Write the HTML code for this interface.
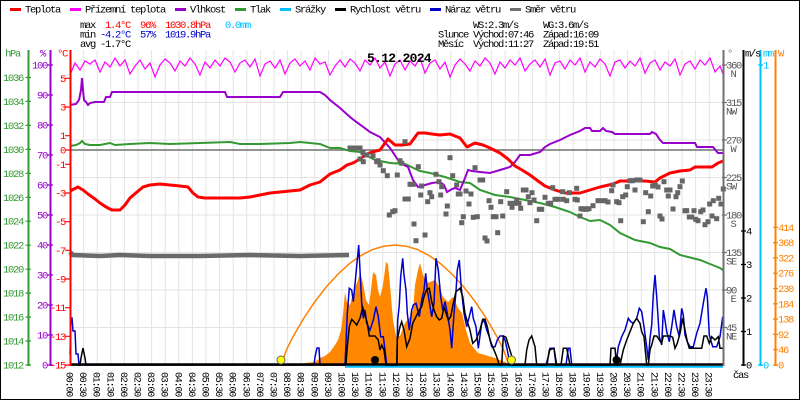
<!DOCTYPE html>
<html><head><meta charset="utf-8"><style>
html,body{margin:0;padding:0;background:#fff;}
svg{display:block;}
text{font-family:"Liberation Mono",monospace;font-size:10.5px;letter-spacing:-1.3px;}
.xl{font-size:10px;letter-spacing:-1.2px;}
</style></head><body>
<svg width="800" height="400" viewBox="0 0 800 400" xmlns="http://www.w3.org/2000/svg">
<rect x="0" y="0" width="800" height="400" fill="#fff"/>
<!-- grid -->
<g stroke="#e4e4e4" stroke-width="1">
<path d="M83.6 50V365M97.2 50V365M110.8 50V365M124.4 50V365M138 50V365M151.6 50V365M165.2 50V365M178.8 50V365M192.4 50V365M206 50V365M219.6 50V365M233.2 50V365M246.8 50V365M260.4 50V365M274 50V365M287.6 50V365M301.2 50V365M314.8 50V365M328.4 50V365M342 50V365M355.6 50V365M369.2 50V365M382.8 50V365M396.4 50V365M410 50V365M423.6 50V365M437.2 50V365M450.8 50V365M464.4 50V365M478 50V365M491.6 50V365M505.2 50V365M518.8 50V365M532.4 50V365M546 50V365M559.6 50V365M573.2 50V365M586.8 50V365M600.4 50V365M614 50V365M627.6 50V365M641.2 50V365M654.8 50V365M668.4 50V365M682 50V365M695.6 50V365M709.2 50V365"/>
<path d="M70 65H723M70 102.5H723M70 140H723M70 177.5H723M70 215H723M70 252.5H723M70 290H723M70 327.5H723"/>
</g>
<line x1="70" y1="150" x2="723" y2="150" stroke="#707070" stroke-width="1.5"/>

<!-- solar radiation -->
<polygon fill="#ff8800" points="300,365 305,363 315,362 320,358 325,356 330,352 335,345 338,340 341,330 343,315 345,292 347,303 350,305 352,297 355,288 358,280 360,273 363,283 366,300 369,305 371,290 373,272 376,275 378,290 380,297 383,285 386,262 388,264 390,285 393,320 396,336 400,336 405,323 410,317 413,310 415,285 418,270 420,263 423,275 427,283 430,282 435,280 440,288 443,297 448,302 453,297 458,308 462,313 466,330 470,343 473,347 478,353 485,355 495,358 505,362 510,365"/>
<polyline fill="none" stroke="#ff8000" stroke-width="1.5" points="281,365 286.7,349.3 292.4,337.8 303.8,318.1 315.2,301.2 326.6,286.5 338,274.1 349.4,263.7 360.8,255.6 372.2,249.7 383.6,246.2 395,245 406.4,246.2 417.8,249.7 429.2,255.6 440.6,263.7 452,274.1 463.4,286.5 474.8,301.2 486.2,318.1 497.6,337.8 503.3,349.3 509,365"/>

<!-- pressure -->
<polyline fill="none" stroke="#339933" stroke-width="2" points="70,146 76,145 80,143 82,141 85,144 90,145 100,145 105,144 110,143 115,145 130,144 150,143 170,144 200,143 230,142 240,144 260,144 290,143 300,142 310,143 320,144 330,148 340,148 350,151 360,152 375,160 390,163 405,164 420,171 430,173 445,177 460,182 470,183 480,190 495,195 510,197 525,200 540,203 555,207 570,212 580,217 590,221 600,220 610,225 620,233 635,240 650,243 660,247 670,249 680,255 700,260 710,264 720,268 723,270"/>
<!-- humidity -->
<polyline fill="none" stroke="#9900cc" stroke-width="2" points="70,105 76,104 79,100 81,90 82,78 83,90 84,100 86,102 88,105 90,103 95,102 104,102 106,97 110,97 112,92 225,92 227,97 280,97 283,92 320,92 325,95 330,100 340,108 350,117 355,121 362,126 370,132 380,137 390,148 398,160 404,165 408,167 413,180 418,187 425,185 432,183 440,182 444,185 447,192 452,189 455,188 460,190 465,178 468,170 472,171 480,172 490,173 500,170 510,167 515,162 520,155 530,155 540,152 545,147 550,144 560,140 570,135 580,131 585,128 590,128 592,131 600,131 603,128 606,131 612,132 615,134 650,134 652,132 656,134 660,140 663,143 695,143 697,147 713,147 718,153 723,153"/>
<!-- apparent temperature -->
<polyline fill="none" stroke="#ff00ff" stroke-width="1.2" points="70,75 75,63 80,70 85,61 90,64 95,60 100,72 105,62 110,67 115,58 120,66 125,60 130,74 135,66 140,60 145,69 150,63 155,77 160,65 165,59 170,63 175,71 180,61 185,66 190,58 195,64 200,75 205,62 210,68 215,60 220,66 225,58 230,62 235,72 240,63 245,60 250,67 255,59 260,76 265,64 270,61 275,68 280,60 285,74 290,63 295,59 300,66 305,61 310,70 315,58 320,64 325,62 330,75 335,66 340,60 345,67 350,59 355,63 360,71 365,60 370,65 375,58 380,68 385,62 390,76 395,64 400,60 405,70 410,61 415,66 420,58 425,73 430,63 435,60 440,69 445,62 450,77 455,65 460,59 465,64 470,71 475,61 480,66 485,58 490,63 495,74 500,62 505,68 510,60 515,65 520,58 525,71 530,64 535,60 540,67 545,59 550,75 555,63 560,61 565,69 570,60 575,65 580,58 585,72 590,62 595,67 600,59 605,64 610,76 615,62 620,60 625,68 630,61 635,66 640,58 645,73 650,63 655,60 660,70 665,62 670,66 675,59 680,75 685,64 690,61 695,69 700,60 705,65 710,58 715,72 720,66 723,74"/>
<!-- temperature -->
<polyline fill="none" stroke="#ff0000" stroke-width="3" stroke-linejoin="round" points="70,191 74,189 78,187 83,190 88,194 95,199 100,203 106,207 112,210 120,210 125,205 130,198 137,192 143,187 150,185 160,184 170,185 180,186 188,187 193,193 198,197 205,198 240,198 250,197 260,195 270,193 280,192 290,191 300,190 310,185 320,182 330,174 340,170 347,165 353,163 360,159 367,154 372,152 380,150 388,139 395,145 402,145 410,144 418,133 425,133 432,134 440,135 450,134 460,138 467,147 475,143 483,145 490,148 500,153 508,159 515,166 522,170 530,175 538,181 545,186 555,190 565,193 580,193 590,190 600,187 613,184 620,181 645,181 655,182 660,178 670,173 680,171 690,170 695,167 712,167 718,163 723,161"/>

<!-- wind direction -->
<polyline fill="none" stroke="#6a6a6a" stroke-width="4.5" points="70,252 73,255 100,256 120,255 150,256 200,256 250,255 300,256 349,255"/>
<g fill="#666">
<rect x="347.5" y="145.5" width="5" height="5"/><rect x="352.5" y="145.5" width="5" height="5"/><rect x="357.5" y="145.5" width="5" height="5"/><rect x="360.5" y="150.2" width="5" height="5"/><rect x="364.2" y="152.5" width="5" height="5"/><rect x="370.5" y="153.2" width="5" height="5"/><rect x="357.5" y="156.5" width="5" height="5"/><rect x="360.8" y="159.2" width="5" height="5"/><rect x="374.2" y="159.2" width="5" height="5"/><rect x="377.5" y="162.5" width="5" height="5"/><rect x="375.5" y="158.2" width="5" height="5"/><rect x="380.8" y="168.2" width="5" height="5"/><rect x="384.8" y="173.2" width="5" height="5"/><rect x="394.8" y="172.5" width="5" height="5"/><rect x="397.5" y="158.2" width="5" height="5"/><rect x="399.2" y="160.8" width="5" height="5"/><rect x="402.5" y="139.2" width="5" height="5"/><rect x="407.5" y="181.8" width="5" height="5"/><rect x="410.8" y="181.8" width="5" height="5"/><rect x="402.5" y="196.5" width="5" height="5"/><rect x="405.8" y="196.5" width="5" height="5"/><rect x="386.8" y="212.5" width="5" height="5"/><rect x="390.2" y="209.2" width="5" height="5"/><rect x="392.5" y="208.2" width="5" height="5"/><rect x="411.5" y="221.5" width="5" height="5"/><rect x="413.5" y="238.2" width="5" height="5"/><rect x="422.5" y="232.5" width="5" height="5"/><rect x="415.8" y="164.2" width="5" height="5"/><rect x="419.2" y="183.5" width="5" height="5"/><rect x="418.2" y="192.5" width="5" height="5"/><rect x="425.2" y="199.2" width="5" height="5"/><rect x="427.5" y="190.2" width="5" height="5"/><rect x="429.2" y="194.2" width="5" height="5"/><rect x="433.5" y="171.8" width="5" height="5"/><rect x="436.5" y="179.2" width="5" height="5"/><rect x="438.2" y="192.5" width="5" height="5"/><rect x="439.2" y="184.2" width="5" height="5"/><rect x="444.8" y="203.5" width="5" height="5"/><rect x="443.5" y="211.5" width="5" height="5"/><rect x="447.5" y="155.2" width="5" height="5"/><rect x="450.2" y="173.2" width="5" height="5"/><rect x="454.2" y="182.5" width="5" height="5"/><rect x="455.8" y="191.5" width="5" height="5"/><rect x="457.5" y="191.5" width="5" height="5"/><rect x="460.8" y="214.2" width="5" height="5"/><rect x="459.2" y="220.2" width="5" height="5"/><rect x="463.5" y="188.5" width="5" height="5"/><rect x="466.5" y="201.5" width="5" height="5"/><rect x="468.5" y="191.5" width="5" height="5"/><rect x="470.8" y="214.8" width="5" height="5"/><rect x="474.8" y="214.2" width="5" height="5"/><rect x="472.5" y="165.2" width="5" height="5"/><rect x="477.5" y="177.5" width="5" height="5"/><rect x="480.2" y="177.5" width="5" height="5"/><rect x="482.5" y="235.5" width="5" height="5"/><rect x="484.5" y="238.5" width="5" height="5"/><rect x="486.5" y="198.2" width="5" height="5"/><rect x="488.5" y="204.8" width="5" height="5"/><rect x="490.8" y="214.2" width="5" height="5"/><rect x="493.5" y="214.2" width="5" height="5"/><rect x="495.2" y="230.2" width="5" height="5"/><rect x="500.2" y="213.5" width="5" height="5"/><rect x="498.2" y="199.2" width="5" height="5"/><rect x="504.2" y="189.2" width="5" height="5"/><rect x="507.5" y="200.8" width="5" height="5"/><rect x="509.5" y="204.8" width="5" height="5"/><rect x="512.5" y="200.8" width="5" height="5"/><rect x="514.2" y="197.5" width="5" height="5"/><rect x="516.5" y="200.8" width="5" height="5"/><rect x="518.2" y="205.8" width="5" height="5"/><rect x="520.8" y="187.5" width="5" height="5"/><rect x="523.5" y="187.5" width="5" height="5"/><rect x="525.8" y="194.2" width="5" height="5"/><rect x="527.5" y="200.2" width="5" height="5"/><rect x="529.5" y="190.2" width="5" height="5"/><rect x="531.5" y="197.5" width="5" height="5"/><rect x="534.2" y="218.2" width="5" height="5"/><rect x="536.8" y="206.8" width="5" height="5"/><rect x="539.2" y="206.8" width="5" height="5"/><rect x="542.5" y="194.8" width="5" height="5"/><rect x="545.8" y="200.8" width="5" height="5"/><rect x="548.2" y="200.8" width="5" height="5"/><rect x="550.2" y="185.2" width="5" height="5"/><rect x="552.5" y="196.8" width="5" height="5"/><rect x="555.8" y="196.8" width="5" height="5"/><rect x="560.2" y="189.2" width="5" height="5"/><rect x="560.8" y="196.8" width="5" height="5"/><rect x="564.2" y="198.2" width="5" height="5"/><rect x="566.8" y="190.2" width="5" height="5"/><rect x="572.5" y="196.8" width="5" height="5"/><rect x="574.8" y="197.5" width="5" height="5"/><rect x="574.2" y="185.8" width="5" height="5"/><rect x="577.5" y="213.5" width="5" height="5"/><rect x="580.8" y="206.8" width="5" height="5"/><rect x="584.2" y="206.8" width="5" height="5"/>
<rect x="578.5" y="206.2" width="5" height="5"/><rect x="582.5" y="206.2" width="5" height="5"/><rect x="586.5" y="206.2" width="5" height="5"/><rect x="590.5" y="203.2" width="5" height="5"/><rect x="595.5" y="198.2" width="5" height="5"/><rect x="599.5" y="198.2" width="5" height="5"/><rect x="602.5" y="198.2" width="5" height="5"/><rect x="605.5" y="199.5" width="5" height="5"/><rect x="609.2" y="188.2" width="5" height="5"/><rect x="610.5" y="182.5" width="5" height="5"/><rect x="614.2" y="199.2" width="5" height="5"/><rect x="616.5" y="200.2" width="5" height="5"/><rect x="620.2" y="194.2" width="5" height="5"/><rect x="623.2" y="192.5" width="5" height="5"/><rect x="624.8" y="184.2" width="5" height="5"/><rect x="627.5" y="178.2" width="5" height="5"/><rect x="629.8" y="178.2" width="5" height="5"/><rect x="632.5" y="187.5" width="5" height="5"/><rect x="634.2" y="177.5" width="5" height="5"/><rect x="637.5" y="177.5" width="5" height="5"/><rect x="618.2" y="218.2" width="5" height="5"/><rect x="640.8" y="219.2" width="5" height="5"/><rect x="643.2" y="190.2" width="5" height="5"/><rect x="645.8" y="209.2" width="5" height="5"/><rect x="648.2" y="193.5" width="5" height="5"/><rect x="650.2" y="183.5" width="5" height="5"/><rect x="652.8" y="182.5" width="5" height="5"/><rect x="655.5" y="184.5" width="5" height="5"/><rect x="657.5" y="213.5" width="5" height="5"/><rect x="659.5" y="216.5" width="5" height="5"/><rect x="661.5" y="179.2" width="5" height="5"/><rect x="664.2" y="187.5" width="5" height="5"/><rect x="667.5" y="187.5" width="5" height="5"/><rect x="665.8" y="193.5" width="5" height="5"/><rect x="670.5" y="206.5" width="5" height="5"/><rect x="673.5" y="194.2" width="5" height="5"/><rect x="675.2" y="190.2" width="5" height="5"/><rect x="677.5" y="184.2" width="5" height="5"/><rect x="679.8" y="178.5" width="5" height="5"/><rect x="682.5" y="208.2" width="5" height="5"/><rect x="684.2" y="208.2" width="5" height="5"/><rect x="686.8" y="214.5" width="5" height="5"/><rect x="689.2" y="214.5" width="5" height="5"/><rect x="691.5" y="208.2" width="5" height="5"/><rect x="693.2" y="216.8" width="5" height="5"/><rect x="695.5" y="218.2" width="5" height="5"/><rect x="698.2" y="209.2" width="5" height="5"/><rect x="700.5" y="207.5" width="5" height="5"/><rect x="702.5" y="222.2" width="5" height="5"/><rect x="705.5" y="219.2" width="5" height="5"/><rect x="707.2" y="201.5" width="5" height="5"/><rect x="710.8" y="198.2" width="5" height="5"/><rect x="709.5" y="213.5" width="5" height="5"/><rect x="714.2" y="216.2" width="5" height="5"/><rect x="716.2" y="195.8" width="5" height="5"/><rect x="718.5" y="201.5" width="5" height="5"/><rect x="720.8" y="186.5" width="5" height="5"/>
</g>

<!-- precipitation zero -->
<line x1="345" y1="366.7" x2="723" y2="366.7" stroke="#00bfff" stroke-width="2"/>
<!-- wind gust -->
<polyline fill="none" stroke="#0000cc" stroke-width="1.5" points="70,354 71,318 72,318 73,331 75,331 76,354 78,354 79,365 314,365 315,357 317,348 319,348 320,365 345,365 347.3,313.3 349.3,288.3 351.7,290 353.3,301.7 355.7,276.7 357.3,260 358.7,245 360,270 361.7,303.3 363.3,318.3 365,310 366.7,323.3 370,330 373.3,320 376,306.7 378.3,316.7 380.7,336.7 383.3,336.7 385,350 386.7,365 396.7,365 397.7,320 399.3,305 400.7,276.7 402.7,258.3 404,275 406,290 407.3,313.3 409.3,330 411.7,310 413.3,305 416,303.3 419.3,316.7 421.7,300 424,290 425.7,273.3 427.3,290 429.3,301.7 431.7,316.7 434,303.3 436,258.3 438.3,270 440.7,296.7 442.7,310 445,301.7 447.3,313.3 450,330 451.7,348.3 454,313.3 456,291.7 457.3,270 459.3,260 461.3,288.3 464,313.3 466.7,326.7 469.3,316.7 471.7,306.7 473.3,318.3 476,326.7 478.3,348.3 481.7,323.3 484,320 486.7,330 489.3,336.7 491.7,346.7 495,346.7 497.3,340 500,336 502.7,336 505,340 507.3,350 510,365 546,365 548.3,356.7 550,348.3 554,348.3 556,365 566,365 568.3,348.3 570,348.3 571.7,365 616,365 618.3,346.7 621.7,336.7 625,330 628.3,318.3 630.7,321.7 633.3,323.3 636.7,318.3 639.3,308.3 641.7,311.7 644,326.7 646.7,346.7 648.3,360 650,338.3 651.7,325 653.3,295 655,275 656.7,296.7 659.3,336.7 661.7,345 663.3,310 665,320 666.7,331.7 669.3,341.7 671.7,326.7 674,310 676.7,326.7 679.3,336.7 681.7,308.3 683.3,315 685,335 687.3,341.7 690,346.7 693.3,346.7 696.7,333.3 700,323.3 703.3,303.3 706,288.3 707.3,296.7 709.3,335 712.7,346.7 716.7,346.7 720,336.7 722.7,316.7"/>
<!-- wind speed -->
<polyline fill="none" stroke="#000" stroke-width="1.5" points="70,365 80,365 81,358 83,348 85,358 86,365 345,365 346,363 347.3,346.7 349.3,326.7 351.7,319.3 354,321.7 356.7,325 360,318.3 362.7,307.3 365,315 367.3,323.3 369.3,336 375,336 378.3,340 380,350 381.7,345 384,350 386,365 397,365 397.3,340 400,326.7 401.7,321.7 404,330 406.7,346.7 410,338.3 412.7,323.3 416,316.7 419.3,310 421.7,306.7 424,296.7 426.7,289.3 429.3,288.3 431.7,301.7 434,310 436.7,316.7 439.3,320 441.7,318.3 444,306.7 446,313.3 448.3,320 450.7,316.7 453.3,303.3 456,291.7 460,288.3 462.7,296.7 465,313.3 467.3,321.7 470,330 472.7,343.3 476,340 480,330 482.7,319.3 485,319.3 487.3,326.7 490,340 493.3,348.3 496.7,356.7 499.3,365 501.7,365 503.3,336 506,337.3 508.3,345 511.7,356 513.3,365 525,365 526.7,350 529,340 531.7,336 535,346.7 536.7,365 547,365 549.3,350 554,348.3 556.7,365 561,365 563.3,348.3 566.7,348.3 570,365 610,365 611,348.3 615,348.3 616.7,365 620,365 623.3,350 626.7,340 630,331.7 633.3,323.3 636.7,318.3 640,323.3 641.7,331.7 644,336.7 646.7,365 648.3,365 650,350 651.7,345 654,336 656.7,336 659.3,340 661.7,343.3 663.3,336 670,336 672.7,337.3 675,348.3 677.3,343.3 680,333.3 682.7,318.3 685,330 687.3,341.7 689.3,348.3 701.7,348.3 704,336 706.7,336 709.3,343.3 711.7,336.7 715,340 718.3,336.7 720,348.3 723,348.3"/>
<line x1="70" y1="364.5" x2="723" y2="364.5" stroke="#000" stroke-width="2.5"/>
<!-- sun / moon -->
<circle cx="281" cy="360" r="4" fill="#ffff00" stroke="#666" stroke-width="1"/>
<circle cx="511.5" cy="360" r="4" fill="#ffff00" stroke="#666" stroke-width="1"/>
<circle cx="375" cy="360" r="4" fill="#000"/>
<circle cx="616.5" cy="360" r="4" fill="#000"/>

<!-- axes lines -->
<g stroke-width="2">
<line x1="28.5" y1="50" x2="28.5" y2="366" stroke="#339933"/>
<line x1="50.5" y1="50" x2="50.5" y2="366" stroke="#9900cc"/>
<line x1="70.5" y1="50" x2="70.5" y2="366" stroke="#ff0000"/>
<line x1="723.5" y1="50" x2="723.5" y2="366" stroke="#707070"/>
<line x1="743.5" y1="50" x2="743.5" y2="366" stroke="#000"/>
<line x1="760.5" y1="50" x2="760.5" y2="366" stroke="#00bfff"/>
<line x1="775.5" y1="50" x2="775.5" y2="366" stroke="#ff8000"/>
</g>
<!-- ticks -->
<g stroke="#339933" stroke-width="1.2"><path d="M25.5 77.5H31M25.5 101.4H31M25.5 125.4H31M25.5 149.4H31M25.5 173.3H31M25.5 197.3H31M25.5 221.2H31M25.5 245.2H31M25.5 269.2H31M25.5 293.1H31M25.5 317.1H31M25.5 341H31M25.5 365H31"/></g>
<g stroke="#9900cc" stroke-width="1.2"><path d="M47 65H53M47 95H53M47 125H53M47 155H53M47 185H53M47 215H53M47 245H53M47 275H53M47 305H53M47 335H53M47 365H53"/></g>
<g stroke="#ff0000" stroke-width="1.2"><path d="M65 78.3H71M65 107H71M65 135.7H71M65 150H71M65 164.3H71M65 193H71M65 221.7H71M65 250.3H71M65 279H71M65 307.7H71M65 336.3H71M65 365H71"/></g>
<g stroke="#707070" stroke-width="1.2"><path d="M722 65H727M722 102.5H727M722 140H727M722 177.5H727M722 215H727M722 252.5H727M722 290H727M722 327.5H727"/></g>
<g stroke="#000" stroke-width="1.2"><path d="M741 231H746M741 264.5H746M741 298H746M741 331.5H746M741 365H746"/></g>
<g stroke="#00bfff" stroke-width="1.2"><path d="M758 65H763M758 365H763"/></g>
<g stroke="#ff8000" stroke-width="1.2"><path d="M773 227.3H778M773 242.6H778M773 257.9H778M773 273.2H778M773 288.5H778M773 303.8H778M773 319.1H778M773 334.4H778M773 349.7H778M773 365H778"/></g>

<!-- legend -->
<rect x="10" y="8" width="11" height="3" fill="#ff0000"/><text x="25" y="12.5">Teplota</text>
<rect x="70" y="8" width="11" height="3" fill="#ff00ff"/><text x="85" y="12.5">Přízemní teplota</text>
<rect x="175" y="8" width="11" height="3" fill="#9900cc"/><text x="190" y="12.5">Vlhkost</text>
<rect x="235" y="8" width="11" height="3" fill="#339933"/><text x="250" y="12.5">Tlak</text>
<rect x="280" y="8" width="11" height="3" fill="#00bfff"/><text x="295" y="12.5">Srážky</text>
<rect x="335" y="8" width="11" height="3" fill="#000"/><text x="350" y="12.5">Rychlost větru</text>
<rect x="430" y="8" width="11" height="3" fill="#0000cc"/><text x="445" y="12.5">Náraz větru</text>
<rect x="510" y="8" width="11" height="3" fill="#707070"/><text x="525" y="12.5">Směr větru</text>

<!-- stats -->
<text x="80" y="28">max</text><text x="105" y="28" fill="#ff0000">1.4°C</text><text x="140" y="28" fill="#ff0000">96%</text><text x="165" y="28" fill="#ff0000">1030.8hPa</text><text x="225" y="28" fill="#00bfff">0.0mm</text>
<text x="80" y="37.5">min</text><text x="100" y="37.5" fill="#0000cc">-4.2°C</text><text x="140" y="37.5" fill="#0000cc">57%</text><text x="165" y="37.5" fill="#0000cc">1019.9hPa</text>
<text x="80" y="47">avg -1.7°C</text>
<text x="473" y="28">WS:2.3m/s</text><text x="543" y="28">WG:3.6m/s</text>
<text x="438" y="37.5">Slunce</text><text x="473" y="37.5">Východ:07:46</text><text x="543" y="37.5">Západ:16:09</text>
<text x="438" y="47">Měsíc</text><text x="473" y="47">Východ:11:27</text><text x="543" y="47">Západ:19:51</text>
<text x="367" y="62" style="font-size:13px;font-weight:bold;letter-spacing:-0.7px">5.12.2024</text>

<!-- axis headers -->
<text x="5" y="56.5" fill="#339933">hPa</text>
<text x="40" y="56.5" fill="#9900cc">%</text>
<text x="57" y="56.5" fill="#ff0000">°C</text>
<text x="727" y="56.5" fill="#707070">°</text>
<text x="745" y="56.5">m/s</text>
<text x="763" y="56.5" fill="#00bfff">mm</text>
<text x="778" y="56.5" fill="#ff8000">W</text>

<!-- left labels -->
<g fill="#339933">
<text x="3" y="81">1036</text><text x="3" y="104.9">1034</text><text x="3" y="128.9">1032</text><text x="3" y="152.9">1030</text><text x="3" y="176.8">1028</text><text x="3" y="200.8">1026</text><text x="3" y="224.7">1024</text><text x="3" y="248.7">1022</text><text x="3" y="272.7">1020</text><text x="3" y="296.6">1018</text><text x="3" y="320.6">1016</text><text x="3" y="344.5">1014</text><text x="3" y="368.5">1012</text>
</g>
<g fill="#9900cc" text-anchor="end">
<text x="47" y="68.5">100</text><text x="47" y="98.5">90</text><text x="47" y="128.5">80</text><text x="47" y="158.5">70</text><text x="47" y="188.5">60</text><text x="47" y="218.5">50</text><text x="47" y="248.5">40</text><text x="47" y="278.5">30</text><text x="47" y="308.5">20</text><text x="47" y="338.5">10</text><text x="47" y="368.5">0</text>
</g>
<g fill="#ff0000" text-anchor="end">
<text x="65" y="81.8">5</text><text x="65" y="110.5">3</text><text x="65" y="139.2">1</text><text x="65" y="153.5">0</text><text x="65" y="167.8">-1</text><text x="65" y="196.5">-3</text><text x="65" y="225.2">-5</text><text x="65" y="253.8">-7</text><text x="65" y="282.5">-9</text><text x="65" y="311.2">-11</text><text x="65" y="339.8">-13</text><text x="65" y="368.5">-15</text>
</g>
<!-- right labels -->
<g fill="#555">
<text x="726" y="68.5">360</text><text x="730.5" y="77">N</text>
<text x="726" y="106">315</text><text x="726" y="114.5">NW</text>
<text x="726" y="143.5">270</text><text x="730.5" y="152">W</text>
<text x="726" y="181">225</text><text x="726" y="189.5">SW</text>
<text x="726" y="218.5">180</text><text x="730.5" y="227">S</text>
<text x="726" y="256">135</text><text x="726" y="264.5">SE</text>
<text x="726" y="293.5">90</text><text x="730.5" y="302">E</text>
<text x="726" y="331">45</text><text x="726" y="339.5">NE</text>
</g>
<g>
<text x="746" y="234.5">4</text><text x="746" y="268">3</text><text x="746" y="301.5">2</text><text x="746" y="335">1</text><text x="746" y="368.5">0</text>
</g>
<g fill="#00bfff"><text x="763" y="68.5">1</text><text x="763" y="368.5">0</text></g>
<g fill="#ff8000">
<text x="778" y="230.8">414</text><text x="778" y="246.1">368</text><text x="778" y="261.4">322</text><text x="778" y="276.7">276</text><text x="778" y="292">230</text><text x="778" y="307.3">184</text><text x="778" y="322.6">138</text><text x="778" y="337.9">92</text><text x="778" y="353.2">46</text><text x="778" y="368.5">0</text>
</g>
<text x="733" y="378">čas</text>

<!-- x labels -->
<g class="xl">
<text class="xl" transform="translate(66.5,372) rotate(90)">00:00</text>
<text class="xl" transform="translate(80.1,372) rotate(90)">00:30</text>
<text class="xl" transform="translate(93.7,372) rotate(90)">01:00</text>
<text class="xl" transform="translate(107.3,372) rotate(90)">01:30</text>
<text class="xl" transform="translate(120.9,372) rotate(90)">02:00</text>
<text class="xl" transform="translate(134.5,372) rotate(90)">02:30</text>
<text class="xl" transform="translate(148.1,372) rotate(90)">03:00</text>
<text class="xl" transform="translate(161.7,372) rotate(90)">03:30</text>
<text class="xl" transform="translate(175.3,372) rotate(90)">04:00</text>
<text class="xl" transform="translate(188.9,372) rotate(90)">04:30</text>
<text class="xl" transform="translate(202.5,372) rotate(90)">05:00</text>
<text class="xl" transform="translate(216.1,372) rotate(90)">05:30</text>
<text class="xl" transform="translate(229.7,372) rotate(90)">06:00</text>
<text class="xl" transform="translate(243.3,372) rotate(90)">06:30</text>
<text class="xl" transform="translate(256.9,372) rotate(90)">07:00</text>
<text class="xl" transform="translate(270.5,372) rotate(90)">07:30</text>
<text class="xl" transform="translate(284.1,372) rotate(90)">08:00</text>
<text class="xl" transform="translate(297.7,372) rotate(90)">08:30</text>
<text class="xl" transform="translate(311.3,372) rotate(90)">09:00</text>
<text class="xl" transform="translate(324.9,372) rotate(90)">09:30</text>
<text class="xl" transform="translate(338.5,372) rotate(90)">10:00</text>
<text class="xl" transform="translate(352.1,372) rotate(90)">10:30</text>
<text class="xl" transform="translate(365.7,372) rotate(90)">11:00</text>
<text class="xl" transform="translate(379.3,372) rotate(90)">11:30</text>
<text class="xl" transform="translate(392.9,372) rotate(90)">12:00</text>
<text class="xl" transform="translate(406.5,372) rotate(90)">12:30</text>
<text class="xl" transform="translate(420.1,372) rotate(90)">13:00</text>
<text class="xl" transform="translate(433.7,372) rotate(90)">13:30</text>
<text class="xl" transform="translate(447.3,372) rotate(90)">14:00</text>
<text class="xl" transform="translate(460.9,372) rotate(90)">14:30</text>
<text class="xl" transform="translate(474.5,372) rotate(90)">15:00</text>
<text class="xl" transform="translate(488.1,372) rotate(90)">15:30</text>
<text class="xl" transform="translate(501.7,372) rotate(90)">16:00</text>
<text class="xl" transform="translate(515.3,372) rotate(90)">16:30</text>
<text class="xl" transform="translate(528.9,372) rotate(90)">17:00</text>
<text class="xl" transform="translate(542.5,372) rotate(90)">17:30</text>
<text class="xl" transform="translate(556.1,372) rotate(90)">18:00</text>
<text class="xl" transform="translate(569.7,372) rotate(90)">18:30</text>
<text class="xl" transform="translate(583.3,372) rotate(90)">19:00</text>
<text class="xl" transform="translate(596.9,372) rotate(90)">19:30</text>
<text class="xl" transform="translate(610.5,372) rotate(90)">20:00</text>
<text class="xl" transform="translate(624.1,372) rotate(90)">20:30</text>
<text class="xl" transform="translate(637.7,372) rotate(90)">21:00</text>
<text class="xl" transform="translate(651.3,372) rotate(90)">21:30</text>
<text class="xl" transform="translate(664.9,372) rotate(90)">22:00</text>
<text class="xl" transform="translate(678.5,372) rotate(90)">22:30</text>
<text class="xl" transform="translate(692.1,372) rotate(90)">23:00</text>
<text class="xl" transform="translate(705.7,372) rotate(90)">23:30</text>
</g>

<rect x="0.5" y="0.5" width="799" height="399" fill="none" stroke="#000" stroke-width="1"/>
</svg>
</body></html>
